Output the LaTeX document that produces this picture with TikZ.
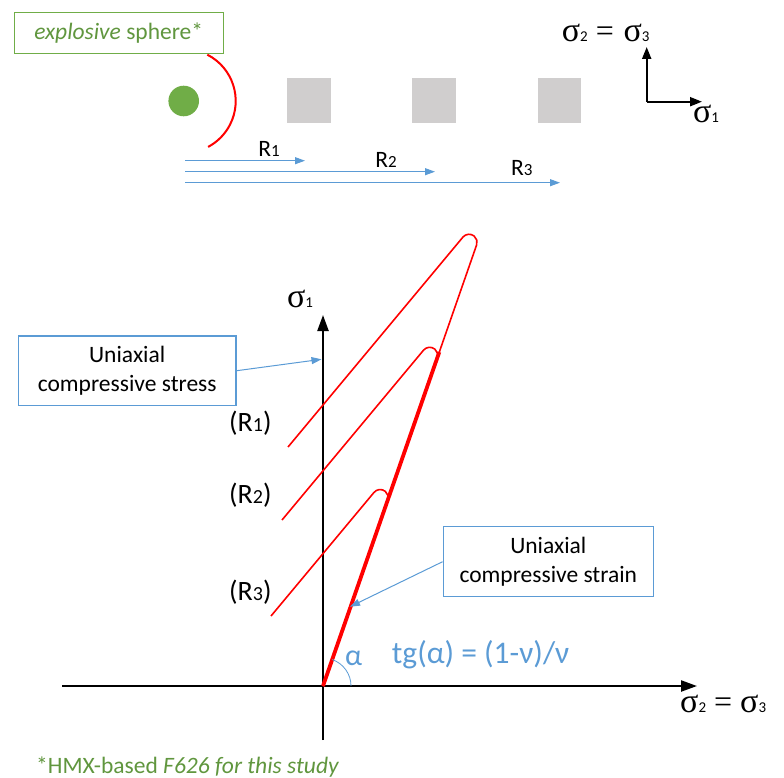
\documentclass[tikz,border=0pt]{standalone}
\usepackage{fontspec}
\setmainfont{Carlito}
\newfontfamily\sigfont{Liberation Serif}
\usetikzlibrary{arrows.meta,calc}
\definecolor{myred}{RGB}{255,0,0}
\definecolor{myblue}{RGB}{91,155,213}
\definecolor{mygreen}{RGB}{112,173,71}
\definecolor{greentext}{RGB}{96,150,62}
\definecolor{mygray}{RGB}{208,206,206}
\newcommand\sg[1]{{\sigfont\fontsize{34}{34}\selectfont σ}{\fontsize{15}{15}\selectfont #1}}
\newcommand\eqs{{\sigfont\fontsize{32}{32}\selectfont\ =\ }}
\begin{document}
\begin{tikzpicture}[x=1pt,y=-1pt,
  thinred/.style={draw=myred, line width=1.6pt, line join=round},
  thickred/.style={draw=myred, line width=3.8pt},
  axis/.style={draw=black, line width=2.3pt, -{Triangle[length=16pt,width=11pt]}},
  smallaxis/.style={draw=black, line width=2pt, -{Triangle[length=12pt,width=9pt]}},
  rarrow/.style={draw=myblue, line width=1pt, -{Triangle[length=10pt,width=7pt]}},
  callout/.style={draw=myblue, line width=1.4pt, fill=white, inner sep=0pt, align=center,
     font=\fontsize{23.5}{29}\selectfont, text=black},
  lbl/.style={inner sep=0pt, font=\fontsize{23.5}{23.5}\selectfont},
  rlbl/.style={inner sep=0pt, anchor=west, font=\fontsize{28}{28}\selectfont},
  sq/.style={fill=mygray, draw=none, minimum width=43.5pt, minimum height=45pt, inner sep=0pt}
]
\useasboundingbox (0,0) rectangle (784,778);

% ---------- top scene ----------
\node[draw=mygreen, line width=1.4pt, minimum width=209pt, minimum height=40.5pt, inner sep=0pt,
      text=greentext, font=\fontsize{23.5}{23.5}\selectfont] (ebox) at (118.7,33) {\textit{explosive} sphere*};
\node[circle, fill=mygreen, minimum size=30.6pt, inner sep=0pt] (ball) at (183.7,101) {};
\draw[myred, line width=2pt] (ball.center) ++(-63:52) arc[start angle=-63, end angle=62, radius=52];

\node[sq] (sq1) at (309.2,100.8) {};
\node[sq] (sq2) at (434,100.8) {};
\node[sq] (sq3) at (559.7,100.8) {};

\coordinate (a1s) at (185,160.7); \coordinate (a1e) at (305,160.7);
\coordinate (a2s) at (185,171.7); \coordinate (a2e) at (435,171.7);
\coordinate (a3s) at (185,182.7); \coordinate (a3e) at (560,182.7);
\draw[rarrow] (a1s) -- (a1e);
\draw[rarrow] (a2s) -- (a2e);
\draw[rarrow] (a3s) -- (a3e);
\node[lbl] (r1) at (269,148.5) {R{\fontsize{17}{17}\selectfont 1}};
\node[lbl] (r2) at (386,160) {R{\fontsize{17}{17}\selectfont 2}};
\node[lbl] (r3) at (521.7,168) {R{\fontsize{17}{17}\selectfont 3}};

% small axes
\coordinate (so) at (646.7,101.7);
\coordinate (sup) at (646.7,47);
\coordinate (sright) at (702,101.7);
\draw[smallaxis] (so) -- (sup);
\draw[smallaxis] (so) -- (sright);
\node[inner sep=0pt, anchor=west] (s23top) at (561.7,33) {\sg{2}\eqs\,\sg{3}};
\node[inner sep=0pt] (s1top) at (706,114) {\sg{1}};

% ---------- main plot ----------
\coordinate (O) at (323,686);
\coordinate (T) at (479,238);
\coordinate (ybot) at (323,740);
\coordinate (ytop) at (323,315);
\coordinate (xl) at (62,686);
\coordinate (xr) at (697,686);
\draw[axis] (ybot) -- (ytop);
\draw[axis] (xl) -- (xr);
\node[inner sep=0pt] (s1) at (300,299) {\sg{1}};
\node[inner sep=0pt, anchor=west] (s23) at (680,704) {\sg{2}\eqs\sg{3}};

\coordinate (S1) at (288,447); \coordinate (D1) at (388,327);
\coordinate (S2) at (282,520); \coordinate (D2) at (382,400);
\coordinate (S3) at (271,616); \coordinate (D3) at (371,496);
\coordinate (A1) at (intersection of S1--D1 and O--T);
\coordinate (A2) at (intersection of S2--D2 and O--T);
\coordinate (A3) at (intersection of S3--D3 and O--T);
\draw[thinred] (S1) -- ($(A1)!44pt!(S1)$) arc[start angle=-140.19, end angle=19.2, radius=8] -- (O);
\draw[thinred] (S2) -- ($(A2)!44pt!(S2)$) arc[start angle=-140.19, end angle=19.2, radius=8] -- (O);
\draw[thinred] (S3) -- ($(A3)!44pt!(S3)$) arc[start angle=-140.19, end angle=19.2, radius=8] -- (O);
\coordinate (J) at ($(O)!0.7455!(T)$);
\draw[thickred] (O) -- (J);

\node[rlbl] (R1) at (229,423) {(R{\fontsize{20}{20}\selectfont 1})};
\node[rlbl] (R2) at (229,495) {(R{\fontsize{20}{20}\selectfont 2})};
\node[rlbl] (R3) at (229,592) {(R{\fontsize{20}{20}\selectfont 3})};

% callouts
\node[callout, minimum width=217.7pt, minimum height=69.3pt] (stress) at (127.2,370.7)
   {Uniaxial\\compressive stress};
\coordinate (stressTip) at (321.5,359.3);
\draw[rarrow] (stress.east) -- (stressTip);
\node[callout, minimum width=210pt, minimum height=70pt] (strain) at (548.3,561.7)
   {Uniaxial\\compressive strain};
\coordinate (strainTip) at (350,606.7);
\draw[rarrow] (strain.west) -- (strainTip);

% angle
\draw[myblue, line width=0.8pt] (O) ++(28,0) arc[start angle=0, end angle=-70.9, radius=28];
\node[inner sep=0pt, anchor=west, text=myblue, font=\fontsize{30}{30}\selectfont] (alpha) at (345,658) {α};
\node[inner sep=0pt, anchor=west, text=myblue, font=\fontsize{31.5}{31.5}\selectfont] (tg) at (391.7,655) {tg(α) = (1-ν)/ν};

% footnote
\node[inner sep=0pt, anchor=west, text=greentext, font=\fontsize{23.5}{23.5}\selectfont] (foot) at (36,767)
   {*HMX-based \textit{F626 for this study}};
\end{tikzpicture}
\end{document}
